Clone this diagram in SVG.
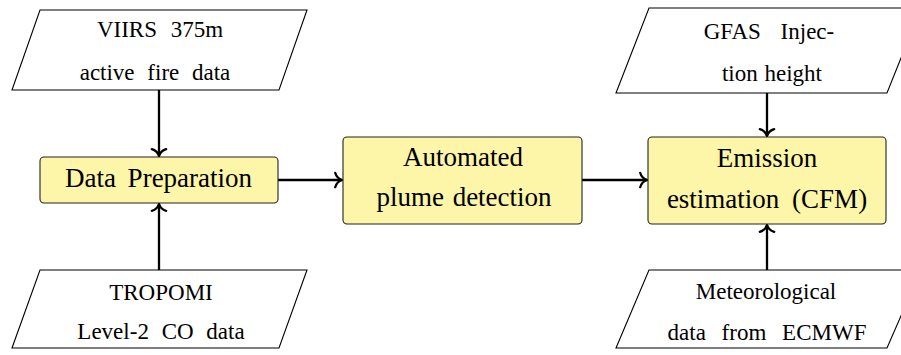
<svg xmlns="http://www.w3.org/2000/svg" width="901" height="355" viewBox="0 0 901 355">
<defs>
<style>
.io{fill:#ffffff;stroke:#000;stroke-width:1.1}
.proc{fill:#fdf5a8;stroke:#222;stroke-width:1.1}
.c{stroke:#000;stroke-width:2.3;fill:none}
</style>
<marker id="to" markerWidth="20" markerHeight="20" refX="10" refY="10" markerUnits="userSpaceOnUse" orient="auto">
<path d="M 3.2 2.8 C 4.3 6.8 7.8 9.3 10 10 C 7.8 10.7 4.3 13.2 3.2 17.2" fill="none" stroke="#000" stroke-width="2.3" stroke-linecap="round"/>
</marker>
</defs>
<rect width="901" height="355" fill="#fff"/>
<g id="connectors">
<line class="c" x1="159" y1="90" x2="159" y2="156" marker-end="url(#to)"/>
<line class="c" x1="159" y1="270" x2="159" y2="204" marker-end="url(#to)"/>
<line class="c" x1="278" y1="180" x2="342" y2="180" marker-end="url(#to)"/>
<line class="c" x1="582" y1="180" x2="647" y2="180" marker-end="url(#to)"/>
<line class="c" x1="767" y1="93" x2="767" y2="136" marker-end="url(#to)"/>
<line class="c" x1="767" y1="270" x2="767" y2="225" marker-end="url(#to)"/>
</g>
<g id="viirs">
<polygon class="io" points="40,10 307,10 279,90 12,90"/>
<text font-family="Liberation Serif" font-size="23" text-anchor="middle" x="160" y="37" word-spacing="8">VIIRS 375m</text>
<text font-family="Liberation Serif" font-size="23" text-anchor="middle" x="155" y="80" word-spacing="7">active fire data</text>
</g>
<g id="tropomi">
<polygon class="io" points="40,270 307,270 279,348 12,348"/>
<text font-family="Liberation Serif" font-size="23" text-anchor="middle" x="161" y="300">TROPOMI</text>
<text font-family="Liberation Serif" font-size="23" text-anchor="middle" x="161" y="339" word-spacing="7">Level-2 CO data</text>
</g>
<g id="dataprep">
<rect class="proc" x="40" y="157" width="238" height="46" rx="4"/>
<text font-family="Liberation Serif" font-size="27" text-anchor="middle" x="158.5" y="187" word-spacing="5">Data Preparation</text>
</g>
<g id="plume">
<rect class="proc" x="343" y="137" width="239" height="87" rx="4"/>
<text font-family="Liberation Serif" font-size="27" text-anchor="middle" x="463" y="166">Automated</text>
<text font-family="Liberation Serif" font-size="27" text-anchor="middle" x="464" y="206" word-spacing="2">plume detection</text>
</g>
<g id="emission">
<rect class="proc" x="648" y="137" width="238" height="87" rx="4"/>
<text font-family="Liberation Serif" font-size="27" text-anchor="middle" x="767" y="167">Emission</text>
<text font-family="Liberation Serif" font-size="27" text-anchor="middle" x="767" y="208" word-spacing="6">estimation (CFM)</text>
</g>
<g id="gfas">
<polygon class="io" points="649,8 921,8 887,93 616,93"/>
<text font-family="Liberation Serif" font-size="23" text-anchor="middle" x="769" y="39" word-spacing="14">GFAS Injec-</text>
<text font-family="Liberation Serif" font-size="23" text-anchor="middle" x="772" y="81" word-spacing="1">tion height</text>
</g>
<g id="ecmwf">
<polygon class="io" points="649,270 921,270 887,348 616,348"/>
<text font-family="Liberation Serif" font-size="23" text-anchor="middle" x="766" y="299">Meteorological</text>
<text font-family="Liberation Serif" font-size="23" text-anchor="middle" x="767" y="340" word-spacing="10">data from ECMWF</text>
</g>
</svg>
